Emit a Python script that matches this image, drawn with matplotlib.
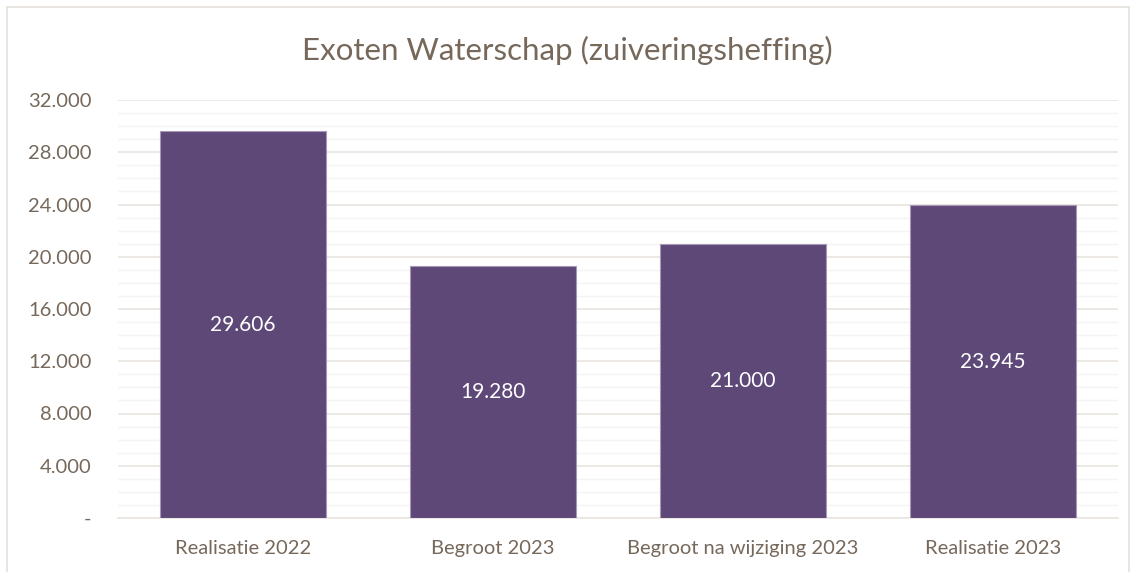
import matplotlib.pyplot as plt
from matplotlib.patches import Rectangle
from matplotlib.ticker import FixedLocator, FuncFormatter

categories = ["Realisatie 2022", "Begroot 2023", "Begroot na wijziging 2023", "Realisatie 2023"]
values = [29606, 19280, 21000, 23945]
title = "Exoten Waterschap (zuiveringsheffing)"

TEXT = "#76685b"
BAR = "#5e4878"
GRID = "#ebe6e1"
MINOR = "#f6f4f2"

plt.rcParams["font.family"] = ["Lato", "DejaVu Sans"]


def nl_fmt(v, pos=None):
    if v == 0:
        return "-"
    return f"{int(v):,}".replace(",", ".")


fig = plt.figure(figsize=(11.35, 5.72), dpi=100)
ax = fig.add_axes([118 / 1135, 1 - 518 / 572, 1000 / 1135, 418 / 572])

x = range(len(categories))
bars = ax.bar(x, values, width=0.667, color=BAR, edgecolor="#a898b8", linewidth=0.8, zorder=3)
for b, v in zip(bars, values):
    ax.text(b.get_x() + b.get_width() / 2, v / 2, nl_fmt(v), ha="center", va="center",
            color="white", fontsize=15, zorder=4)

ax.set_xlim(-0.5, len(categories) - 0.5)
ax.set_ylim(0, 32000)
ax.yaxis.set_major_locator(FixedLocator(range(0, 32001, 4000)))
ax.yaxis.set_minor_locator(FixedLocator([v for v in range(0, 32001, 1000) if v % 4000]))
ax.yaxis.set_major_formatter(FuncFormatter(nl_fmt))
ax.grid(axis="y", which="major", color=GRID, linewidth=1.3, zorder=0)
ax.grid(axis="y", which="minor", color=MINOR, linewidth=1.0, zorder=0)
ax.set_xticks(list(x))
ax.set_xticklabels(categories)
ax.tick_params(axis="both", which="both", length=0, colors=TEXT, labelsize=14.5)
ax.tick_params(axis="x", pad=16)
ax.tick_params(axis="y", pad=19)
for s in ["top", "right", "left"]:
    ax.spines[s].set_visible(False)
ax.spines["bottom"].set_color(GRID)
ax.spines["bottom"].set_linewidth(1.3)

fig.text(0.5, 1 - 50 / 572, title, ha="center", va="center", color=TEXT, fontsize=22.5)

fig.patches.append(Rectangle((7 / 1135, -0.01), 1122 / 1135, 1 - 7 / 572 + 0.01,
                             transform=fig.transFigure, fill=False, edgecolor="#e4e0dc",
                             linewidth=1.2))

fig.savefig("out.png", dpi=100)
